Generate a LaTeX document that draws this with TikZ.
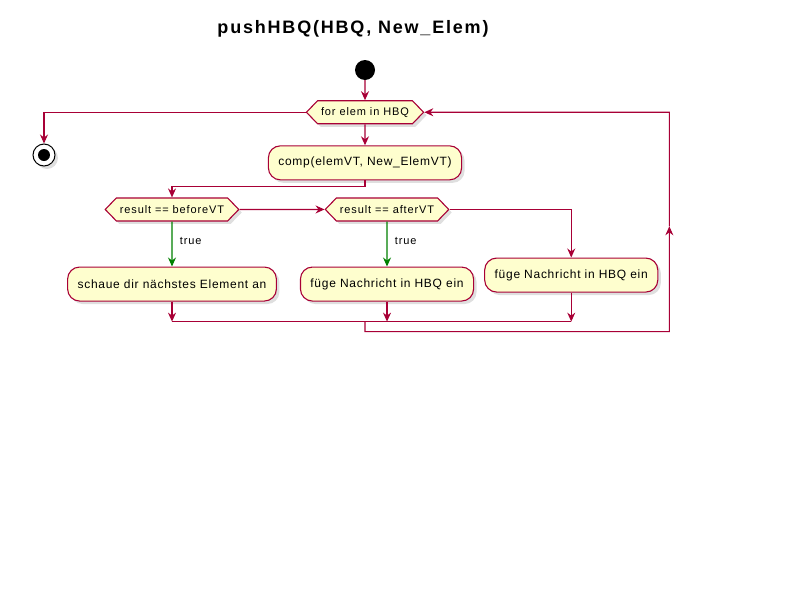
\documentclass[tikz,border=0pt]{standalone}
\usepackage{fontspec}
\setmainfont{Liberation Sans}
\usetikzlibrary{positioning,arrows.meta,shapes.symbols,shadows,calc}
\definecolor{borde}{RGB}{168,0,54}
\definecolor{relleno}{RGB}{254,254,206}
\definecolor{verde}{RGB}{0,128,0}

\begin{document}
\begin{tikzpicture}[x=1pt, y=-1pt,
  aktion/.style={rectangle, rounded corners=12pt, draw=borde, line width=1.1pt,
    fill=relleno, minimum height=34pt, inner xsep=10pt,
    font=\fontsize{12pt}{14pt}\selectfont\addfontfeature{LetterSpace=6},
    drop shadow={shadow xshift=3pt, shadow yshift=-3pt, opacity=0.25}},
  bedingung/.style={signal, signal to=west and east, signal pointer angle=92,
    draw=borde, line width=1.1pt, fill=relleno,
    minimum height=23pt, inner xsep=3.5pt, inner ysep=0pt,
    font=\fontsize{11pt}{13pt}\selectfont\addfontfeature{LetterSpace=8},
    drop shadow={shadow xshift=3pt, shadow yshift=-3pt, opacity=0.25}},
  endknoten/.style={circle, draw=black, line width=1pt, fill=white,
    minimum size=22pt, inner sep=0pt,
    drop shadow={shadow xshift=3pt, shadow yshift=-3pt, opacity=0.25}},
  pfeil/.style={-{Stealth[length=9pt, width=8pt, inset=3pt]}, line width=1.1pt, draw=borde},
  pfeilja/.style={pfeil, draw=verde},
  linie/.style={line width=1.1pt, draw=borde},
  etikett/.style={font=\fontsize{11pt}{13pt}\selectfont\addfontfeature{LetterSpace=8}}
]
\useasboundingbox (0,0) rectangle (800,600);
\node[font=\bfseries\fontsize{18pt}{20pt}\selectfont\addfontfeature{LetterSpace=10}]
  (titel) at (353,29) {pushHBQ(HBQ, New\_Elem)};
\node[circle, fill=black, minimum size=20pt, inner sep=0pt] (start) at (365,70) {};
\node[bedingung, below=20pt of start] (schleife) {for elem in HBQ};
\node[endknoten] (stop) at (44,155) {};
\fill (stop) circle (6pt);
\node[aktion, below=21pt of schleife] (comp) {comp(elemVT, New\_ElemVT)};
\node[bedingung, below=17pt of comp, xshift=-193pt] (vorher) {result == beforeVT};
\node[bedingung, right=85pt of vorher] (nachher) {result == afterVT};
\node[aktion, below=45pt of vorher] (weiter) {schaue dir nächstes Element an};
\node[aktion, below=45pt of nachher] (einfuegen1) {füge Nachricht in HBQ ein};
\node[aktion, right=10pt of einfuegen1, yshift=9pt] (einfuegen2) {füge Nachricht in HBQ ein};
\draw[pfeil] (start) -- (schleife);
\draw[pfeil] (schleife.west) -| (stop);
\draw[pfeil] (schleife) -- (comp);
\draw[pfeil] (comp.south) -- ++(0,6) -| (vorher.north);
\draw[pfeil] (vorher) -- (nachher);
\draw[pfeil] (nachher.east) -| (einfuegen2.north);
\draw[pfeilja] (vorher) -- (weiter)
  node[etikett, pos=0.43, right=4pt, text=black] {true};
\draw[pfeilja] (nachher) -- (einfuegen1)
  node[etikett, pos=0.43, right=4pt, text=black] {true};
% zusammenfuehren
\coordinate[below=20pt of weiter] (m1);
\coordinate (m2) at (m1 -| einfuegen1);
\coordinate (m3) at (m1 -| einfuegen2);
\coordinate (m0) at (m1 -| comp);
\draw[pfeil] (weiter) -- (m1);
\draw[pfeil] (einfuegen1) -- (m2);
\draw[pfeil] (einfuegen2) -- (m3);
\draw[linie] (m1) -- (m3);
% zurueck zur schleife
\coordinate (rechts) at ([xshift=245pt]schleife.east);
\coordinate (unten) at ([yshift=-10pt]m0);
\coordinate (eck) at (unten -| rechts);
\coordinate (mitte) at ($(eck)!0.48!(rechts)$);
\draw[pfeil] (m0) -- (unten) -- (eck) -- (mitte);
\draw[pfeil] (mitte) -- (rechts) -- (schleife.east);
\end{tikzpicture}
\end{document}
